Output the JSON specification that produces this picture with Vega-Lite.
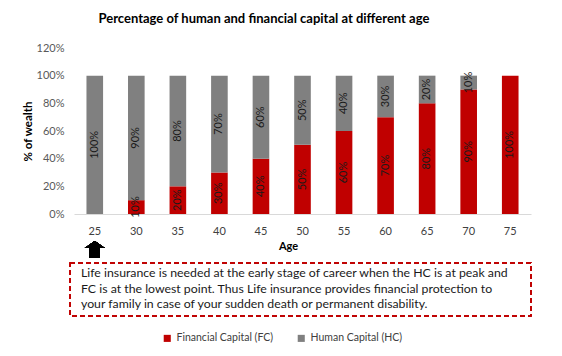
{
  "$schema": "https://vega.github.io/schema/vega-lite/v6.json",
  "padding": {"left": 22, "top": 13, "right": 30, "bottom": 12},
  "background": "white",
  "title": {"text": "Percentage of human and financial capital at different age", "fontSize": 13, "fontWeight": "bold", "font": "Lato", "color": "#000000", "anchor": "middle", "offset": 16, "dx": -13},
  "config": {"font": "Lato", "view": {"stroke": null}, "axisY": {"labelOverlap": false}},
  "bounds": "flush",
  "spacing": 49,
  "datasets": {
    "capital": [
      {"age": 25, "type": "Financial Capital (FC)", "value": 0},
      {"age": 30, "type": "Financial Capital (FC)", "value": 0.1},
      {"age": 35, "type": "Financial Capital (FC)", "value": 0.2},
      {"age": 40, "type": "Financial Capital (FC)", "value": 0.3},
      {"age": 45, "type": "Financial Capital (FC)", "value": 0.4},
      {"age": 50, "type": "Financial Capital (FC)", "value": 0.5},
      {"age": 55, "type": "Financial Capital (FC)", "value": 0.6},
      {"age": 60, "type": "Financial Capital (FC)", "value": 0.7},
      {"age": 65, "type": "Financial Capital (FC)", "value": 0.8},
      {"age": 70, "type": "Financial Capital (FC)", "value": 0.9},
      {"age": 75, "type": "Financial Capital (FC)", "value": 1.0},
      {"age": 25, "type": "Human Capital (HC)", "value": 1.0},
      {"age": 30, "type": "Human Capital (HC)", "value": 0.9},
      {"age": 35, "type": "Human Capital (HC)", "value": 0.8},
      {"age": 40, "type": "Human Capital (HC)", "value": 0.7},
      {"age": 45, "type": "Human Capital (HC)", "value": 0.6},
      {"age": 50, "type": "Human Capital (HC)", "value": 0.5},
      {"age": 55, "type": "Human Capital (HC)", "value": 0.4},
      {"age": 60, "type": "Human Capital (HC)", "value": 0.3},
      {"age": 65, "type": "Human Capital (HC)", "value": 0.2},
      {"age": 70, "type": "Human Capital (HC)", "value": 0.1},
      {"age": 75, "type": "Human Capital (HC)", "value": 0}
    ],
    "note": [
      {"line": 1, "text": "Life insurance is needed at the early stage of career when the HC is at peak and"},
      {"line": 2, "text": "FC is at the lowest point. Thus Life insurance provides financial protection to"},
      {"line": 3, "text": "your family in case of your sudden death or permanent disability."}
    ]
  },
  "vconcat": [
    {
      "width": 457,
      "height": 166,
      "data": {"name": "capital"},
      "layer": [
        {
          "mark": {"type": "bar"},
          "encoding": {
            "x": {"field": "age", "type": "ordinal", "scale": {"paddingInner": 0.6, "paddingOuter": 0.3},
              "axis": {"title": "Age", "labelAngle": 0, "ticks": false, "domainColor": "#D9D9D9", "labelFontSize": 11, "labelColor": "#404040", "labelPadding": 11, "titleFontSize": 11, "titleFontWeight": "bold", "titleColor": "#000000", "titlePadding": 4, "titleX": 214}},
            "y": {"field": "value", "type": "quantitative", "stack": "zero", "scale": {"domain": [0, 1.2], "nice": false},
              "axis": {"title": "% of wealth", "format": ".0%", "values": [0, 0.2, 0.4, 0.6, 0.8, 1, 1.2], "tickCount": 12, "labelOverlap": false, "grid": false, "domain": false, "ticks": false, "labelFontSize": 11, "labelColor": "#595959", "labelPadding": 10, "titleFontSize": 11.5, "titleFontWeight": "bold", "titleColor": "#000000", "titlePadding": 3}},
            "color": {"field": "type", "type": "nominal", "scale": {"domain": ["Financial Capital (FC)", "Human Capital (HC)"], "range": ["#C00000", "#808080"]},
              "legend": {"title": null, "orient": "none", "legendX": 88, "legendY": 285, "direction": "horizontal", "symbolType": "square", "symbolSize": 50, "symbolStrokeWidth": 0, "labelFontSize": 10.5, "labelColor": "#404040", "columnPadding": 22}},
            "order": {"field": "type"}
          }
        },
        {
          "transform": [
            {"stack": "value", "groupby": ["age"], "sort": [{"field": "type", "order": "ascending"}], "as": ["v0", "v1"]},
            {"filter": "datum.value > 0"},
            {"calculate": "(datum.v0 + datum.v1) / 2", "as": "mid"}
          ],
          "mark": {"type": "text", "angle": 270, "align": "center", "baseline": "middle", "fontSize": 11, "color": "#1A1A1A"},
          "encoding": {
            "x": {"field": "age", "type": "ordinal"},
            "y": {"field": "mid", "type": "quantitative"},
            "text": {"field": "value", "type": "quantitative", "format": ".0%"}
          }
        },
        {
          "mark": {"type": "point", "filled": true, "clip": false, "color": "#000000", "opacity": 1, "strokeWidth": 0, "size": 400,
            "shape": "M0,-0.85 L1,-0.15 L0.5,-0.15 L0.5,0.85 L-0.5,0.85 L-0.5,-0.15 L-1,-0.15 Z"},
          "encoding": {
            "x": {"datum": 25, "type": "ordinal"},
            "y": {"datum": -0.2566, "type": "quantitative"}
          }
        }
      ]
    },
    {
      "width": 457,
      "height": 53,
      "data": {"name": "note"},
      "layer": [
        {
          "mark": {"type": "rect", "fill": null, "stroke": "#C00000", "strokeWidth": 1.5, "strokeDash": [5, 3], "clip": false},
          "encoding": {
            "x": {"datum": 22.02, "type": "quantitative", "scale": {"domain": [22.5, 77.5], "zero": false, "nice": false}, "axis": null},
            "x2": {"datum": 77.5},
            "y": {"datum": 0.355, "type": "quantitative", "scale": {"domain": [0.355, 3.774], "zero": false, "nice": false, "reverse": true}, "axis": null},
            "y2": {"datum": 3.774}
          }
        },
        {
          "mark": {"type": "text", "align": "left", "baseline": "middle", "fontSize": 12.3, "color": "#1A1A1A", "clip": false},
          "encoding": {
            "x": {"datum": 23.34, "type": "quantitative"},
            "y": {"field": "line", "type": "quantitative"},
            "text": {"field": "text", "type": "nominal"}
          }
        }
      ]
    }
  ]
}
